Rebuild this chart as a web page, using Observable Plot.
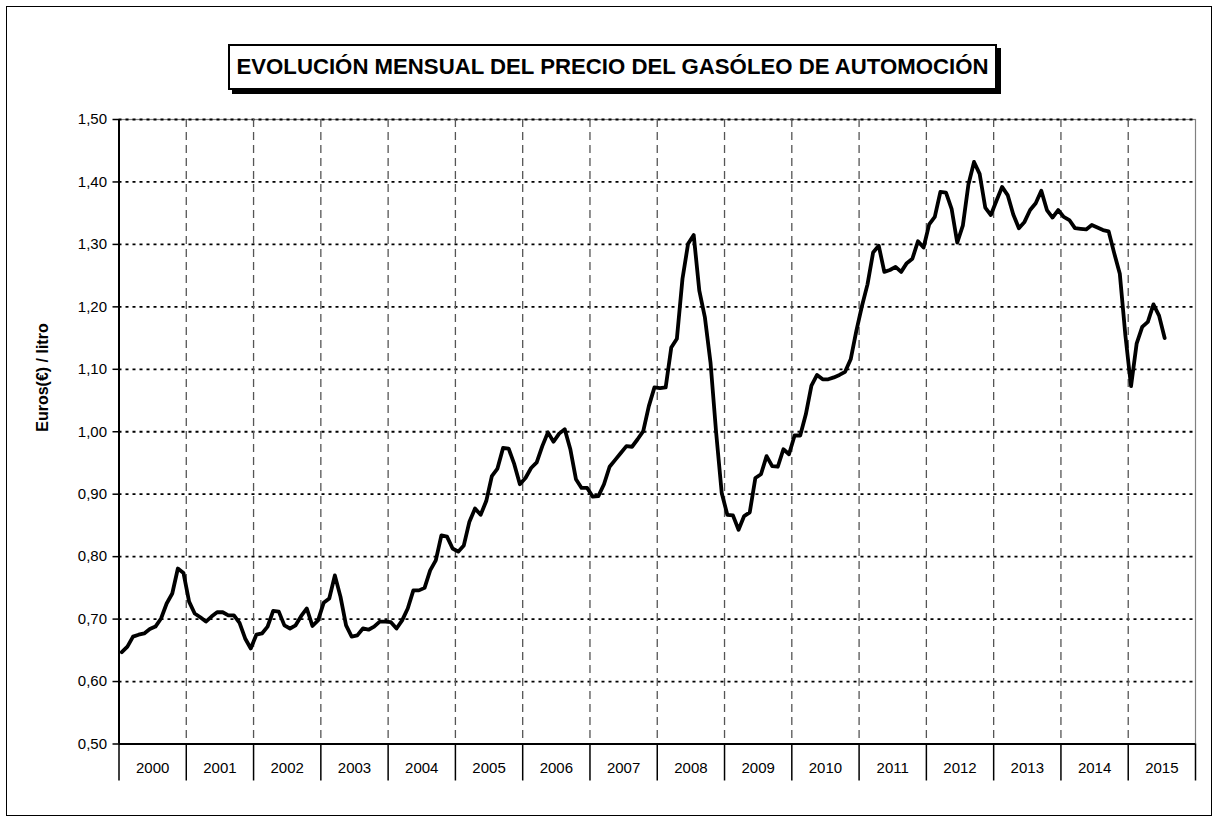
<!DOCTYPE html>
<html>
<head>
<meta charset="utf-8">
<script src="https://cdn.jsdelivr.net/npm/d3@7"></script>
<script src="https://cdn.jsdelivr.net/npm/@observablehq/plot@0.6"></script>
<style>
  html, body { margin: 0; padding: 0; background: #fff; }
  #wrap { position: relative; width: 1218px; height: 821px; overflow: hidden; font-family: "Liberation Sans", Arial, sans-serif; }
  #frame { position: absolute; left: 6px; top: 6px; width: 1206px; height: 810px; border: 1.5px solid #000; box-sizing: border-box; }
  #title { position: absolute; left: 228px; top: 44px; width: 769px; height: 46px; border: 2px solid #000; box-sizing: border-box;
           box-shadow: 4px 4px 0 #000; background: #fff; display: flex; align-items: center; justify-content: center;
           font-weight: bold; font-size: 22.2px; color: #000; white-space: nowrap; }
  #chart { position: absolute; left: 0; top: 0; }
</style>
</head>
<body>
<div id="wrap">
  <div id="frame"></div>
  <div id="chart"></div>
  <div id="title">EVOLUCIÓN MENSUAL DEL PRECIO DEL GASÓLEO DE AUTOMOCIÓN</div>
</div>
<script>
// Category labels (one per year, 12 monthly slots each)
const years = ["2000","2001","2002","2003","2004","2005","2006","2007","2008","2009","2010","2011","2012","2013","2014","2015"];
// Y axis tick values
const yTicks = [0.5,0.6,0.7,0.8,0.9,1.0,1.1,1.2,1.3,1.4,1.5];
// Monthly diesel price, euros / litre, Jan 2000 – Jul 2015
const prices = [
  0.647, 0.656, 0.672, 0.675, 0.677, 0.684, 0.688, 0.701, 0.725, 0.741, 0.781, 0.774, // 2000
  0.728, 0.709, 0.703, 0.696, 0.704, 0.711, 0.711, 0.706, 0.706, 0.694, 0.669, 0.653, // 2001
  0.675, 0.677, 0.688, 0.713, 0.712, 0.690, 0.685, 0.690, 0.705, 0.717, 0.689, 0.698, // 2002
  0.726, 0.733, 0.770, 0.736, 0.690, 0.672, 0.674, 0.685, 0.683, 0.688, 0.696, 0.696, // 2003
  0.695, 0.685, 0.698, 0.717, 0.746, 0.746, 0.750, 0.778, 0.794, 0.834, 0.832, 0.813, // 2004
  0.808, 0.818, 0.856, 0.877, 0.867, 0.889, 0.929, 0.941, 0.974, 0.973, 0.948, 0.916, // 2005
  0.926, 0.942, 0.951, 0.977, 0.999, 0.984, 0.997, 1.004, 0.972, 0.924, 0.910, 0.910, // 2006
  0.896, 0.897, 0.916, 0.944, 0.955, 0.966, 0.977, 0.976, 0.988, 1.001, 1.041, 1.071, // 2007
  1.070, 1.071, 1.135, 1.149, 1.245, 1.301, 1.315, 1.226, 1.183, 1.111, 0.999, 0.902, // 2008
  0.867, 0.866, 0.843, 0.865, 0.871, 0.926, 0.932, 0.961, 0.945, 0.944, 0.972, 0.964, // 2009
  0.994, 0.994, 1.028, 1.074, 1.091, 1.084, 1.084, 1.087, 1.091, 1.096, 1.116, 1.161, // 2010
  1.201, 1.236, 1.287, 1.298, 1.256, 1.259, 1.264, 1.256, 1.270, 1.277, 1.305, 1.295, // 2011
  1.332, 1.344, 1.384, 1.383, 1.357, 1.303, 1.330, 1.396, 1.432, 1.413, 1.359, 1.347, // 2012
  1.370, 1.392, 1.379, 1.348, 1.326, 1.336, 1.355, 1.366, 1.386, 1.355, 1.343, 1.355, // 2013
  1.344, 1.339, 1.326, 1.325, 1.324, 1.331, 1.327, 1.323, 1.321, 1.286, 1.253, 1.154, // 2014
  1.073, 1.141, 1.168, 1.176, 1.204, 1.186, 1.150                                      // 2015
];

const nSlots = years.length * 12;
const boundaries = d3.range(0, nSlots + 1, 12);
const innerBoundaries = boundaries.slice(1, -1);
const fmt = d => d.toFixed(2).replace(".", ",");

const chart = Plot.plot({
  width: 1218,
  height: 821,
  marginLeft: 118.5,
  marginRight: 23,
  marginTop: 119,
  marginBottom: 77.5,
  style: { fontFamily: "'Liberation Sans', Arial, sans-serif", fontSize: "15px", color: "#000", background: "transparent", overflow: "visible" },
  x: { domain: [0, nSlots], axis: null },
  y: { domain: [0.5, 1.5], axis: null },
  marks: [
    Plot.frame({ stroke: "#808080", strokeWidth: 1.2 }),
    // horizontal dotted gridlines
    Plot.ruleY(yTicks.slice(1), { stroke: "#000", strokeWidth: 1.8, strokeDasharray: "3,4" }),
    // vertical dashed gridlines at year boundaries
    Plot.ruleX(innerBoundaries, { stroke: "#555", strokeWidth: 1.3, strokeDasharray: "8,5" }),
    // category separators below the axis
    Plot.axisX(boundaries, { anchor: "bottom", tickSize: 37, tickFormat: () => "", stroke: "#000", strokeWidth: 1.5 }),
    // year labels
    Plot.text(years, { x: (d, i) => i * 12 + 6, frameAnchor: "bottom", dy: 29, fontSize: 15, fill: "#000" }),
    // left axis
    Plot.axisY(yTicks, { anchor: "left", tickSize: 6, tickPadding: 6, tickFormat: fmt, fontSize: 15, stroke: "#000", strokeWidth: 1.5, label: null }),
    Plot.ruleX([0], { stroke: "#000", strokeWidth: 2 }),
    Plot.ruleY([0.5], { stroke: "#000", strokeWidth: 2 }),
    // y axis title
    Plot.text(["Euros(€) / litro"], { frameAnchor: "left", dx: -76, rotate: -90, fontWeight: "bold", fontSize: 16, fill: "#000" }),
    // price line
    Plot.line(prices, { x: (d, i) => i + 0.5, y: d => d, stroke: "#000", strokeWidth: 3.8, strokeLinejoin: "round", strokeLinecap: "round" })
  ]
});
document.getElementById("chart").appendChild(chart);
</script>
</body>
</html>
